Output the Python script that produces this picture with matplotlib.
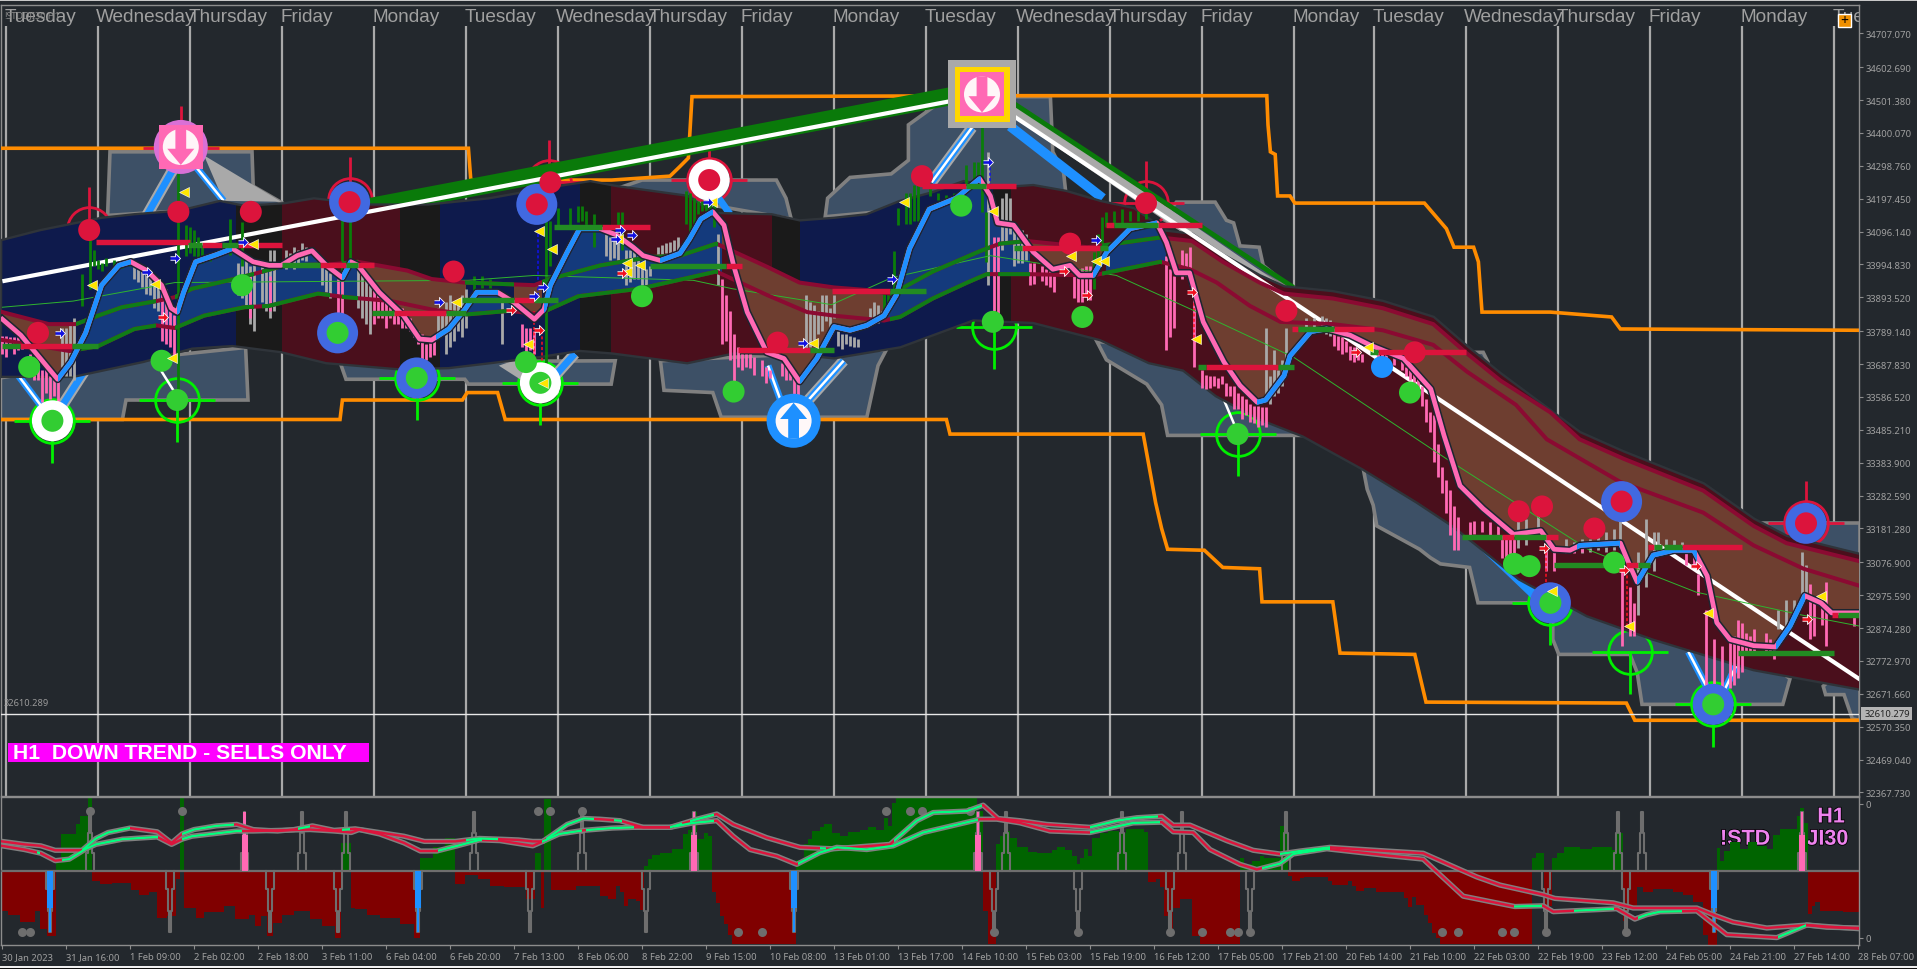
import numpy as np
import matplotlib
matplotlib.use("Agg")
import matplotlib.pyplot as plt
from matplotlib.patches import Rectangle
import matplotlib.patheffects as pe

# ---------- axis text ----------
price_ticks = [34707.070,34602.690,34501.380,34400.070,34298.760,34197.450,34096.140,33994.830,33893.520,33789.140,
               33687.830,33586.520,33485.210,33383.900,33282.590,33181.280,33076.900,32975.590,32874.280,32772.970,
               32671.660,32570.350,32469.040,32367.730]
date_labels = ["30 Jan 2023","31 Jan 16:00","1 Feb 09:00","2 Feb 02:00","2 Feb 18:00","3 Feb 11:00","6 Feb 04:00","6 Feb 20:00",
               "7 Feb 13:00","8 Feb 06:00","8 Feb 22:00","9 Feb 15:00","10 Feb 08:00","13 Feb 01:00","13 Feb 17:00","14 Feb 10:00",
               "15 Feb 03:00","15 Feb 19:00","16 Feb 12:00","17 Feb 05:00","17 Feb 21:00","20 Feb 14:00","21 Feb 10:00","22 Feb 03:00",
               "22 Feb 19:00","23 Feb 12:00","24 Feb 05:00","24 Feb 21:00","27 Feb 14:00","28 Feb 07:00"]
day_bars = [1,24,47,70,93,116,139,162,185,208,231,254,277,300,323,343,366,389,412,435,458]
day_names = ["Tuesday","Wednesday","Thursday","Friday","Monday"]*3+["Tuesday","Wednesday","Thursday","Friday","Monday","Tuesday"]
last_price = 32610.279

# ---------- main smoothed price line ----------
line_x = [0.1,4.7,9.6,13.9,17.2,20.9,24.9,29.2,32.2,36.2,39.9,42.3,43.8,45.4,48.4,53.6,57.6,62.8,66.8,69.8,73.8,77.5,81.1,85.1,87.2,89,
          94.3,100.4,104.4,107.4,111.7,115.7,118.7,123.9,127.9,133.1,135.5,137.1,141.3,144.4,149.6,153.6,157.8,160.3,164.6,169.5,171.9,
          174.7,177.7,180.5,182.9,186.3,191.2,195.5,199.4,203.7,208,212,216.2,220.5,223.6,226.9,231.8,238.5,244.4,247.1,248.9,252.9,257.8,
          262.7,267,269.4,272.8,276.2,282,288.7,291.1,293.6,296.9,300.3,305.5,309.5,313.8,315.9,320.5,322,327.2,331.2,337,341.9,350.4,357.2,
          360.5,364.5,370.3,377.9,384.7,388,392,394.5,404.6,407,408.8,412.8,418,422.9,426.3,428.7,432,437.9,443.4,447,450.7,454.7,457.4,464.5]
line_y = [33826,33777,33705,33641,33694,33784,33931,33992,34003,33976,33931,33860,33848,33909,34003,34025,34044,34003,33992,33992,34022,34037,33992,33954,34003,33992,
          33909,33837,33765,33762,33796,33856,33909,33909,33879,33826,33856,33931,34033,34105,34105,34086,34048,34022,34007,34029,34074,
          34135,34157,34116,33992,33848,33724,33705,33634,33705,33803,33792,33807,33837,33901,34044,34165,34199,34259,34206,34123,34116,34033,
          33980,33992,33961,33961,34033,34105,34123,34063,33969,33969,33818,33694,33622,33570,33577,33652,33713,33788,33796,33777,33747,33705,33611,
          33468,33313,33242,33163,33174,33117,33114,33129,33136,33065,33016,33099,33114,33114,33035,32891,32839,32820,32816,32880,32974,32952,32921,32921]
line_blue_ranges = [(13.9,32.2),(43.8,57.6),(85,87),(108.6,123.9),(135.5,149.3),(164.6,177.7),(199.4,244.7),(272.8,288.7),(313.8,331.2),(393.8,404.6),(408.8,423.8),(443.4,450.7)]

# ---------- moving averages ----------
ma_up_x = [0.1,11.7,18.5,24,30,38.6,43.2,47.5,56.7,62.8,70.7,82,89,101.3,107.4,115.7,133.1,137,149.6,162.1,169.5,178.6,191.2,199.4,208,216.2,222,225.4,232.7,244.7,249.5,256.3,
           271.3,278.6,289.6,297.5,305.2,314.4,320.5,332.7,345.2,357.8,366.3,374.6,387.1,394.4,405.4,425.3,437.9,446.1,464.5]
ma_up_y = [33848,33811,33811,33837,33863,33882,33894,33920,33946,33965,33992,33995,34003,33976,33950,33939,33931,33950,33992,34018,34022,34059,33988,33939,33924,33916,33905,33924,33973,34037,34059,34067,
           34048,34059,34078,34067,34003,33939,33905,33890,33860,33811,33720,33637,33539,33456,33396,33298,33189,33136,33080]
ma_lo_x = [0.1,16.9,24,33.1,38.6,43.2,50.5,60.6,66.7,79,86,97.3,107.4,116.3,127,134,144.1,159.4,178.6,191.2,201.3,208,220.5,224.5,232.7,241.3,246.2,256.3,272.8,289.6,297,303.7,
           312,319.6,332.7,345.2,357.8,366.3,378.5,386.2,404.5,425.3,437.9,450.4,464.5]
ma_lo_y = [33762,33728,33743,33796,33807,33799,33837,33863,33867,33905,33894,33882,33856,33841,33852,33841,33897,33920,33973,33901,33848,33837,33822,33833,33890,33939,33965,33965,33961,34003,33980,33939,
           33867,33818,33811,33792,33747,33664,33562,33456,33325,33230,33129,33057,33004]
ma_green_ranges = [(18.5,38.6),(43.2,63),(65,82),(85,89),(115.7,128),(135,179),(222,247),(249,257),(275,290)]
thin_x = [0.1,17.8,43.2,116.6,133.1,172.8,182.6,207.4,222.4,247.1,278.6,298.8,322.9,361.1,396.9,423.5,450.1,464.5]
thin_y = [33863,33882,33939,33946,33961,33946,33920,33871,33954,34022,33961,33848,33709,33396,33114,32985,32914,32880]

# ---------- cloud ----------
cloud_top_x = [0.1,9.6,24.9,33.1,44.4,54.5,60.6,70.7,78,91.2,106.5,121.8,137,147.1,153.6,171.3,177.7,192.4,199.4,208,216.2,224.5,232.7,240.4,249.5,257.8,266,274.6,282.9,287.8,289.9,
               297.5,305.2,314.4,320.5,332.7,345.2,357.8,366.3,374.6,394.4,405.4,425.3,437.9,446.1,464.5]
cloud_top_y = [34067,34097,34135,34146,34157,34187,34172,34180,34195,34176,34176,34195,34229,34248,34233,34203,34150,34146,34127,34135,34146,34187,34214,34248,34229,34236,34218,34187,34165,34123,34097,
               34086,34022,33958,33924,33909,33879,33830,33739,33656,33475,33415,33317,33208,33155,33099]
cloud_bot_x = [0,17.8,35.3,47.5,57.6,69.8,81.1,99.5,111.7,132.2,144.4,152.6,171.3,182.9,199.4,208,224.5,242.8,257.8,274.6,286.8,295.4,303.6,314.3,325.3,340.3,353.8,363,379.4,396.3,412.8,437.9,464.5]
cloud_bot_y = [33652,33652,33698,33739,33747,33728,33694,33675,33679,33709,33732,33724,33694,33724,33720,33709,33743,33826,33818,33765,33694,33671,33592,33521,33468,33366,33264,33189,33027,32914,32842,32748,32688]
zones_navy = [(-1,58.5),(109.5,144.4),(199.4,247.7)]
zones_black = [(58.5,69.9),(99.5,109.5),(144.4,152.3),(192.4,199.4),(247.7,252.3)]
zones_maroon = [(69.9,99.5),(152.3,192.4),(252.3,466)]
fill_blue_ranges = [(18,89),(116,128),(135,180),(221,257),(276,291)]
fill_brown_ranges = [(-1,18),(89,116),(128,135),(180,221),(257,276),(291,466)]

# ---------- outer stepped channel shapes ----------
slate_shapes = [
 [(-0.5,33645),(-0.5,33517),(30.1,33517),(31,33577),(61.5,33577),(60.9,33739),(17.8,33683)],
 [(26.4,34146),(27,34342),(62.5,34342),(62.8,34236),(70.7,34180)],
 [(84.5,33694),(86,33641),(115.7,33641),(116.6,33626),(152.3,33626),(153.3,33698)],
 [(153.8,34229),(160,34255),(193.6,34255),(196,34199),(197.3,34135)],
 [(164.6,33698),(165.5,33607),(177.7,33600),(179.8,33524),(216.2,33524),(219,33683),(221.1,33732)],
 [(205.8,34142),(206.4,34199),(212,34263),(222.3,34274),(226.6,34316),(226.6,34425),(236.4,34512),(262.1,34512),(262.7,34342),(265.4,34278),(266,34210)],
 [(273.7,33758),(276.1,33701),(286.2,33626),(289.9,33562),(291.4,33468),(325,33468),(299,33720)],
 [(290.2,34135),(293.6,34187),(303.3,34187),(306.1,34131),(307.9,34123),(309.5,34052),(314.3,34048),(315.3,33992),(323.5,33909)],
 [(340.3,33366),(341.3,33302),(342.8,33253),(343.7,33189),(354.4,33117),(357.1,33091),(359.6,33072),(366.9,33061),(369,32952),(387.7,32952),(387.7,32839),(389.2,32793),
  (407,32793),(408.8,32737),(410,32639),(445.2,32639),(447,32718),(396.8,33193)],
 [(455.3,32695),(455.9,32669),(460.5,32669),(462.6,32594),(464.5,32590),(464.5,32800)],
 [(436.6,33150),(436.6,33197),(464.5,33197),(464.5,33100)],
 [(365.7,33724),(370.3,33724),(371.5,33694),(371.5,33645)],
]
orange_top_x = [-0.5,116.6,117.2,152.4,167,169.5,171.6,172.5,253.2,316.2,316.5,317.1,318.3,318.9,322,323.2,355.6,361.1,363,367.9,369.1,370,387.1,402.4,404.6,464.8]
orange_top_y = [34353,34353,34255,34255,34267,34297,34323,34512,34515,34515,34425,34342,34334,34206,34206,34184,34184,34105,34048,34048,34003,33848,33848,33833,33796,33792]
orange_bot_x = [-0.5,84.5,85.1,115.1,116.3,123.9,125.8,236.1,237,285.3,287.2,288.4,289.9,291.4,300.6,305.2,314.4,315,332.7,334.5,353.2,356,406.1,408.2,464.8]
orange_bot_y = [33517,33517,33577,33577,33600,33600,33517,33517,33472,33472,33343,33261,33181,33117,33114,33061,33057,32955,32955,32797,32793,32646,32643,32590,32590]

# ---------- trend lines: x0, price0, x1, price1 ----------
trend_white = [(0.1,33943,237.9,34500),(245.6,34512,464.7,32714)]
trend_green_thick = [(91.2,34170,237.9,34515)]
trend_green_edge = [(253.2,34489,322.9,33924)]
trend_grey = [(251.7,34481,322,33890)]
trend_blue = [(252,34421,275.2,34199)]
spokes_grey = [(44.4,34323,36.2,34146),(12.6,33513,21.5,33683),(242.5,34417,232.4,34248),(199.7,33551,210.4,33698),(136.1,33622,143.2,33720)]
spokes_blue = [(44.4,34323,36.2,34146),(45.4,34342,55.4,34191),(12.6,33513,4.1,33652),(12.6,33513,21.5,33683),(136.1,33622,143.2,33720),(195.4,33551,191.5,33683),
               (199.7,33551,210.4,33698),(242.5,34417,232.4,34248),(179.2,34199,182,34150),(426.2,32692,421.6,32801),(430.5,32680,434.2,32775)]
spokes_white = [(45.4,34342,55.4,34191),(12.6,33513,4.1,33652),(195.4,33551,191.5,33683),(199.7,33551,210.4,33698),(242.5,34417,232.4,34248),(426.2,32692,421.6,32801),
                (430.5,32680,434.2,32775),(305.5,33577,308.2,33498),(39.8,33667,43.2,33600)]
wedges_grey = [[(50.5,34331),(69.8,34188),(55.4,34191)],[(124.2,33683),(133.1,33720),(132.8,33615)]]
wedges_blue = [[(360.2,33227),(383.7,33005),(383.7,32950)]]

# ---------- hourly bars: bar, high, low ----------
grey_bars = [(15,33800,33680),(16,33800,33650),(17,33810,33650),(18,33830,33640),(33,34000,33950),(34,33990,33940),(35,33985,33925),(36,33980,33905),(37,33975,33900),(38,33960,33860),(39,33950,33850),
 (59,34000,33900),(60,34010,33890),(61,34020,33870),(62,33990,33810),(63,34000,33790),(65,33990,33880),(66,33980,33850),(67,34040,33830),(68,34040,33850),
 (71,34040,33980),(72,34030,33990),(73,34050,33980),(74,34040,33990),(75,34060,34010),(76,34050,34005),(80,33990,33930),(81,33980,33910),(82,33970,33890),
 (89,34000,33860),(90,33980,33830),(91,33950,33810),(92,33940,33780),(109,33860,33780),(110,33850,33780),(111,33880,33720),(112,33900,33740),(113,33880,33760),(114,33870,33790),(115,33900,33770),(116,33920,33800),(125,33900,33750),
 (151,34090,34020),(152,34080,34010),(153,34075,34015),(154,34070,34000),(156,34040,33930),(157,34040,33940),(158,34040,33950),(159,34020,33950),(160,34000,33930),(161,33980,33930),(162,33990,33960),
 (164,34050,34020),(165,34055,34025),(166,34060,34030),(167,34065,34030),(168,34070,34030),(169,34080,34030),(179,34090,33930),
 (201,33900,33730),(202,33880,33740),(203,33870,33750),(204,33850,33780),(205,33900,33790),(206,33900,33820),(207,33860,33800),(208,33900,33830),(209,33790,33745),(210,33780,33735),(211,33780,33750),(212,33775,33745),(213,33770,33740),(214,33765,33740),
 (217,33860,33810),(218,33880,33810),(219,33870,33815),(220,33850,33820),(246.5,34340,33930),(250,34200,34040),(251,34215,34060),(252,34200,34090),(253,34110,33990),(254,34100,34000),(255,34100,34000),(256,34090,34010),
 (316,33800,33570),(317,33650,33565),(318,33730,33590),(319,33670,33600),(320,33700,33620),(321,33800,33660),(326,33830,33790),(328,33830,33790),(330,33835,33795),(331,33830,33780),(332,33825,33775),
 (379,33210,33120),(381,33210,33130),(384,33225,33150),(391,33150,33110),(393,33140,33110),(395,33150,33105),(397,33150,33110),(399,33160,33115),(401,33170,33110),(403,33180,33115),(404.5,33210,33120),
 (409,33110,32914),(411,33210,33000),(413,33170,33050),(414,33170,33100),(416,33150,33110),(418,33145,33115),(420,33140,33110),(444,32930,32870),(446,32960,32880),(448,32960,32900),(449,32950,32920),(450,33110,32970),(451,33070,32980)]
pink_bars = [(0,33775,33720),(1,33775,33710),(2,33770,33740),(3,33770,33720),(4,33770,33730),(5,33765,33735),(7,33720,33650),(8,33710,33640),(9,33710,33640),(10,33670,33570),(11,33680,33600),(12,33650,33580),(13,33640,33590),(14,33660,33570),
 (40,33930,33760),(41,33920,33750),(42,33880,33740),(43,33840,33700),(62,33960,33830),(67,33960,33850),(84,33950,33830),(85,33950,33820),
 (93,33930,33810),(94,33925,33830),(95,33910,33830),(96,33890,33800),(97,33880,33830),(98,33860,33810),(99,33850,33810),(100,33860,33800),(101,33850,33800),(102,33830,33790),(103,33800,33770),(104,33790,33750),(105,33780,33700),(106,33750,33700),(107,33760,33710),(108,33760,33715),
 (130,33810,33740),(131,33800,33720),(132,33800,33730),(133,33790,33720),(180,33950,33750),(181,33900,33760),(182,33850,33700),(183,33780,33630),(184,33740,33680),(185,33720,33670),(186,33720,33680),(187,33720,33675),(188,33710,33655),
 (190,33700,33650),(191,33680,33630),(192,33670,33645),(195,33690,33650),(196,33690,33640),(197,33670,33640),(198,33670,33580),(199,33640,33580),
 (248,34080,33850),(249,34080,33820),(257,34000,33930),(258,34000,33935),(260,33990,33945),(261,33980,33930),(262,33975,33925),(263,33960,33910),(268,33980,33890),(269,33980,33880),(270,33985,33880),(271,33990,33895),(272,33990,33885),
 (291,34020,33730),(292,33980,33770),(293,33960,33800),(295,34040,33950),(296,34030,33960),(297,34050,33930),(298,33920,33680),
 (300,33670,33615),(301,33655,33610),(302,33650,33615),(303,33650,33620),(304,33645,33615),(305,33650,33625),(306,33630,33590),(307,33620,33590),(308,33620,33550),(309,33600,33550),(310,33590,33520),(311,33580,33530),(312,33565,33510),(313,33560,33505),(314,33560,33495),(315,33555,33500),(316,33555,33495),
 (333,33785,33745),(334,33775,33730),(335,33770,33720),(336,33760,33725),(337,33745,33700),(338,33740,33695),(339,33730,33700),(340,33720,33695),(344,33745,33700),(345,33740,33680),(346,33735,33690),(348,33725,33685),(350,33710,33670),
 (351,33680,33650),(352,33680,33640),(353,33670,33620),(354,33650,33600),(355,33620,33560),(356,33580,33510),(357,33540,33480),(358,33530,33385),(359,33440,33340),(360,33370,33290),(361,33330,33230),(362,33300,33160),(363,33250,33115),(364,33215,33115),
 (367,33200,33160),(368,33205,33165),(370,33205,33170),(372,33200,33160),(374,33190,33150),(375,33160,33090),(376,33160,33090),(377,33160,33085),(378,33150,33095),(386,33120,33050),(388,33110,33050),(391,33125,33105),(393,33125,33105),(395,33130,33110),
 (405,33050,32820),(407,33000,32850),(408,32950,32850),(421,33110,33070),(423,33100,33060),(424,33040,32975),(426,32930,32700),(428,32840,32670),(430,32820,32680),(432,32830,32690),(433,32850,32700),(434,32900,32720),(435,32890,32740),
 (436,32860,32790),(437,32850,32790),(438,32870,32800),(441,32860,32790),(442,32840,32790),(443,32825,32780),(452,33010,32840),(453,32950,32850),(455,32970,32885),(456,33015,32820),(463,32920,32880)]
green_bars = [(20,33965,33868),(22,34073,33919),(23,34040,33990),(24,34010,33980),(25,34000,33975),(26,34015,33990),(28,34010,33985),(30,34000,33985),(32,34005,33990),
 (44,34279,33580),(46,34115,34020),(47,34110,34030),(48,34100,34020),(49,34080,34010),(50,34050,34000),(52,34030,34005),(57,34135,34025),(60,34125,33990),
 (85,34135,33830),(87,34135,33990),(118,33960,33910),(120,33960,33915),(122,33950,33920),(136,34135,33630),(137,34130,33990),(139,34170,34115),(142,34170,34110),(144,34175,34125),(145,34175,34130),(146,34160,34110),(148,34150,34050),
 (154,34155,34095),(155,34155,34040),(171,34220,34120),(172,34215,34090),(173,34200,34120),(174,34190,34150),(175,34190,34160),(176,34185,34160),(177,34180,34160),(178,34180,34110),
 (220.5,33910,33853),(221.5,33910,33853),(223,34037,33889),(224,34170,34115),(226,34215,34120),(227,34215,34120),(228,34240,34130),(229,34255,34130),(232,34235,34205),(234,34215,34195),(236,34210,34195),(238,34215,34195),(240,34235,34200),
 (241,34300,34230),(243,34310,34230),(244,34310,34230),(245,34433,34156),(246,34156,34002),(273,34033,33920),(274,34090,33990),(275,34140,34040),(276,34155,34110),(278,34160,34115),(280,34165,34120),(282,34160,34130),(284,34160,34130),(286,34155,34135)]
dash_red = [(298,33909,33765),(386,33123,32995),(406.2,33054,32882),(133,33850,33700),(135,33790,33600)]
dash_blue = [(247,34310,34166),(134,34090,33900)]

# ---------- level bars: start, end, price ----------
level_crimson = [(23.5,47,34065),(50,55,34055),(59,70,34055),(79.6,86,33993),(89,93,33993),(4.6,17.4,33745),(98,111,33845),(128,133,33886),(150,162,34111),(181,185,33990),(207.4,222,33913),(184,202,33732),
 (230,241,34238),(246,253.6,34238),(255,274.5,34047),(276,278,34117),(289,300,34117),(301,319,33679),(322.5,324,33796),(333,343,33796),(344,366,33726),(375,378,33156),(386,389,33156),(406,409,33069),(411.5,413,33125),(420,435,33125),(457.5,459,32915)]
level_green = [(46.5,50,34055),(55,59,34055),(70,79.6,33993),(86,89,33993),(0,4.6,33745),(17.4,24,33745),(92.4,98,33845),(111,116,33845),(115,128,33886),(133,139,33886),(138,150,34111),(162,181,33990),(222,231,33913),(202,208,33732),
 (241,246,34238),(253,255,34047),(274.5,276.5,34047),(278,289,34117),(299,301,33679),(319,323,33679),(324,333,33796),(342,344,33726),(365,375,33156),(378,386,33156),(388,401,33069),(409,412,33069),(413,415,33125),(415.5,420,33125),(434,458,32798),(459,464.5,32915)]

# ---------- signal markers: bar, price ----------
dots_crimson = [(21.8,34101),(44.1,34157),(62.2,34157),(9,33784),(112.9,33973),(137.1,34248),(193.9,33754),(230,34267),(267,34059),(286,34184),(321.1,33852),(353.2,33724),(379.2,33234),(385,33249),(398.1,33181)]
dots_green = [(6.8,33679),(39.9,33698),(60,33931),(131,33694),(160,33897),(182.9,33603),(239.8,34176),(247.7,33818),(270.1,33833),(308.9,33472),(352,33600),(378,33072),(381.9,33065),(403,33076),(43.8,33577)]
ring_blue_crimson = [(86.9,34187),(133.7,34180),(404.9,33264),(451,33197)]
ring_white_crimson = [(176.8,34255)]
ring_blue_green = [(83.9,33784),(103.7,33645),(387.1,32952),(427.8,32639)]
ring_white_green = [(12.6,33513),(134.6,33630)]
dot_blue = [(345,33679)]
cross_green = [(12.6,33513),(43.8,33577),(103.7,33645),(134.6,33630),(248,33803),(308.9,33472),(387.1,32952),(407,32801),(427.8,32639)]
cross_red = [(21.8,34105),(44.7,34353),(86.9,34195),(136.8,34248),(176.8,34255),(286,34184),(451,33197)]
tri_yellow = [(22.4,33931),(45.4,34218),(38.3,33935),(62.8,34059),(42.6,33705),(113.5,33879),(134.3,34097),(137.4,34044),(131.6,33750),(135.2,33630),(153.9,34074),(156.3,33999),(156.3,33973),(159.4,33992),(177.4,34187),
 (202.8,33754),(225.4,34187),(247.7,34161),(267.3,34022),(273.4,34007),(275.5,34007),(298.5,33765),(341.6,33739),(387.4,32989),(406.7,32880),(426.6,32921),(454.7,32974)]
arrow_blue = [(14.5,33784),(36.2,33973),(43.2,34014),(60.3,34063),(109.2,33879),(135.2,33924),(133.1,33897),(154.5,34101),(153.6,34074),(157.5,34086),(176.5,34187),(200.3,33754),(222.4,33950),(246.5,34312),(273.4,34071)]
arrow_red = [(40.2,33833),(127.3,33856),(134.3,33792),(155.1,33969),(265.5,33976),(271.3,33901),(297.6,33909),(338.5,33724),(385.6,33121),(405.5,33053),(423.5,33065),(451.3,32903)]
icon_sell_round = (44.7,34357)
icon_buy_round = (197.9,33513)
icon_sell_square = (245,34519)

# ---------- lower panel ----------
hist_start = [0,1.5,4.6,8.2,9.5,11.2,13.6,14.8,18.4,19.4,21.4,22.5,24.5,27.6,32.2,34.2,36.7,38.8,41.3,43.4,44.4,45.4,48.5,50.5,55.6,58.2,61.7,63.3,64.8,66.3,67.7,69.9,73,77,80,83.2,84.7,87.3,88.3,91.3,94.4,99.5,103,104.6,107.7,110.7,113.3,115.8,118.9,122,125.5,131.1,133.2,134.7,135.5,137.3,143.4,149.5,
 151.6,153.5,154.5,155.5,156.6,158.5,159.5,160.5,161.6,162.4,164.5,167.4,170.3,171.6,172.4,173.7,175.5,176.6,177.5,178.5,179.5,180.5,181.5,182.5,198.5,200.5,201.5,202.5,204.5,205.5,207.5,209.5,211.5,214.5,216.5,218.5,220.5,221.5,222.5,223.5,243.7,245.3,246.6,248.5,249.5,250.5,252,253.7,256.6,258.7,262.4,263.7,265.8,267.4,268.7,269.5,270.5,271.6,272.4,274.5,276.6,279.3,281,285.5,
 286.5,288.5,289.5,290.5,291.6,292.8,294.5,297.5,299.5,309.5,310.5,312.5,314.5,315.5,319.5,320.5,321.6,322.5,324.5,325.5,331.5,332.5,336.5,337.5,338.5,340.5,343.5,350.5,351.5,352.5,353.5,355.5,356.5,357.5,358.5,359.5,382.5,383.5,385.5,387.4,388.7,390.5,394.5,397.5,402.4,403.3,405.3,406.6,408.7,410.3,412.8,417.8,420.3,422.8,425.3,426.6,428.7,429.5,430.5,432,434.5,436.6,438.7,441.2,442.8,444.5,448.7,449.5,450.5,451.6,452.4,453.3,454.5,460.3,464.3]
hist_val = [-54,-59,-69,-54,-79,-88,11,50,63,75,98,-14,-18,-16,-25,-32,-29,-63,-61,-11,98,-50,-63,-56,-47,-65,-59,-74,-61,-88,-70,-59,-54,-65,-74,-90,38,-50,-52,-59,-63,-72,-91,18,32,45,-18,-5,-11,-20,-22,-38,25,-50,97,-25,-20,-34,
 -38,-20,-29,-47,-38,-40,-53,7,16,22,25,30,50,56,80,43,52,47,-29,-43,-61,-72,-86,-99,15,36,43,54,60,64,52,47,53,55,60,56,72,61,92,98,81,-54,-99,36,47,54,45,32,26,25,29,32,29,20,10,18,30,20,45,52,54,52,57,53,
 -15,-11,-22,-61,-79,-50,-38,-88,-99,17,9,14,20,18,61,65,-7,-14,-9,-8,-14,-19,-14,-20,-27,-23,-29,-37,-48,-35,-46,-59,-70,-84,-90,-99,18,25,-47,17,25,32,30,33,29,52,-67,-47,-22,-29,-24,-29,-33,-42,-87,-100,31,14,27,39,30,39,34,30,48,57,75,85,65,-58,-47,-42,-54,-56]
sub_up_x = [0,5.6,9.7,13.3,20,23.5,26.5,32,38.8,42.4,45,48,53.6,58.7,62.8,68.9,73,77.6,83,88.3,94.4,100.5,105.6,113.3,119.4,124.5,129.1,132.7,135.2,141.3,145.4,149.5,154.5,160.3,167,173.7,178.7,182.8,191.2,199.5,207.8,222,228.7,232.8,241.2,245.3,249,254.5,261.2,272,278.7,283.7,290,292.8,297,306.2,312.8,319.5,324.5,332,346.2,355.3,364.5,368.7,374.5,385.3,388.2,402.8,407.8,423.7,428.7,432.8,441.2,451.2,456.2,464.3]
sub_up_y = [40,36,34,28,28,44,52,58,53,38,50,56,61,63,56,54,56,61,55,57,52,47,40,40,44,43,42,40,40,63,71,70,68,59,59,70,77,63,45,32,30,36,68,79,81,89,71,68,63,59,68,72,74,62,62,41,28,23,27,32,27,24,2,-8,-19,-32,-37,-43,-50,-50,-61,-69,-77,-73,-76,-77]
sub_lo_x = [0,5.6,9.7,13.3,16.8,21,23.5,30.1,38.8,42.4,45,47.5,58.7,62.8,77,83,87.3,89.3,94.4,100.5,104.6,108.7,113.8,119.4,124.5,132.7,135.2,139.3,145.4,152.6,157.8,167,172.8,178.7,182.8,187,193.7,198.7,204.5,208.7,216.2,222.8,230.3,244.5,248.7,254.5,262,272,282.8,290,292.8,297.8,302,309.5,313.7,319.5,322.8,331.2,346.2,355.3,365.3,374.5,378.2,385.3,387.8,403.7,408.2,411.2,414.5,423.7,431.2,443.7,451.2,456.2,464.3]
sub_lo_y = [34,29,24,14,16,30,36,43,46,36,43,47,54,54,56,54,52,56,50,38,27,27,34,42,41,34,40,50,55,58,59,59,65,68,47,29,20,9,25,32,29,34,52,70,70,65,54,52,65,66,53,52,29,9,2,10,23,30,21,16,-34,-44,-48,-47,-55,-51,-65,-59,-55,-54,-86,-90,-73,-75,-78]
sub_up_green = [(20,32),(45,58),(74,77),(85,87),(116,124),(136,148),(153,155),(167,170),(172,178),(204.5,206),(223,245),(272,289),(319.5,332)]
sub_lo_green = [(8.7,9.5),(15,39),(45,60),(109,120),(135,145),(146,158),(168,178),(199,244),(272,289.5),(315,332),(378,385),(393,403),(409,420),(444,451)]
spike_up = [22,75,86,118,145,251,280,295,321,404,410]
spike_down = [42,67,84,132,161,248,269,292,312,386,406]
spike_pink = [60.7,173,244,450]
spike_blue = [12,104,198,428]
sub_dot_x = [5,7,22,45,134,137,145,221,227,230,242,184,190,248,269,292,300,307,309,312,360,364,375,378,386,406]
sub_dot_y = [-82,-82,81,81,81,81,81,81,81,81,81,-83,-83,-83,-83,-83,-83,-83,-83,-83,-83,-83,-83,-83,-83,-83]

# ---------- style ----------
BG="#23282d"; TXT="#a0a0a0"; GRIDC="#a9a9a9"; FRAME="#8c8c8c"
NAVY="#0e1a4c"; BLUEF="#143a7c"; MAROON="#4a0f1c"; BLK="#1a1a1a"; BROWN="#6e3e30"; SLATE="#3d5066"
CRIM="#dc143c"; DKRED="#8b0a32"; GREEN="#0f7d16"; LV="#228b22"; PINK="#ff69b4"; BLUE="#1e90ff"; ROYAL="#4169e1"; LGREEN="#32cd32"; LIME="#00f000"; ORANGE="#ff8c00"
W,H=1917,970
plt.rcParams['font.family']=['Noto Sans','DejaVu Sans']
fig=plt.figure(figsize=(W/100,H/100),dpi=100,facecolor=BG)
def axpx(x0,y0,x1,y1):
    return fig.add_axes([x0/W,1-y1/H,(x1-x0)/W,(y1-y0)/H],facecolor=BG)
ax=axpx(1,6,1859,797); ax2=axpx(1,798,1859,946)
ax.set_xlim(-0.25,464.25); ax.set_ylim(32356.6,34794.5)
ax2.set_xlim(-0.25,464.25); ax2.set_ylim(-100,100)

def clipped(artist,axis,x0,x1):
    r=Rectangle((x0,-1e6),x1-x0,2e6,transform=axis.transData)
    artist.set_clip_path(r)
def seglines(axis,segs,color,lw,z,**kw):
    for s in segs:
        axis.plot([s[0],s[2]],[s[1],s[3]],color=color,lw=lw,zorder=z,solid_capstyle='butt',**kw)
def unz(pts):
    a=list(zip(*pts)); return list(a[0]),list(a[1])

# day separators and names
ax.vlines(day_bars,32300,34730,color=GRIDC,lw=1.6,zorder=1)
for b,n in zip(day_bars,day_names):
    ax.text(b-0.4,34758,n,color=TXT,fontsize=13.7,family='Liberation Sans',ha='left',va='center',clip_on=True,zorder=1)
ax.text(0.5,34762,"!STDDJI30,H1",color="#8a8a8a",fontsize=6.5,va='center',zorder=1)

# stepped shapes
for sh in slate_shapes:
    xs,ys=unz(sh)
    ax.fill(xs,ys,facecolor=SLATE,edgecolor="#808080",lw=2.6,zorder=2,joinstyle='miter')
ax.plot(orange_top_x,orange_top_y,color=ORANGE,lw=2.6,zorder=3,solid_joinstyle='miter')
ax.plot(orange_bot_x,orange_bot_y,color=ORANGE,lw=2.6,zorder=3,solid_joinstyle='miter')

# crosshairs sit behind the cloud
def crosses(pts,color,sign,z):
    x,y=unz(pts)
    ax.plot(x,y,ls='none',marker='o',ms=31.5,mfc='none',mec=color,mew=2,zorder=z)
    ax.plot(x,y,ls='none',marker='_',ms=55,mec=color,mew=2,zorder=z)
    for a,b in pts:
        ax.plot([a,a],[b,b+sign*130],color=color,lw=2,zorder=z,solid_capstyle='butt')
crosses(cross_green,LIME,-1,3.6); crosses(cross_red,CRIM,1,3.6)

# wedges, spokes and broad trend bands also sit behind the cloud
for w_ in wedges_grey:
    xs,ys=unz(w_); ax.fill(xs,ys,color="#a9a9a9",lw=0,zorder=3.7)
for w_ in wedges_blue:
    xs,ys=unz(w_); ax.fill(xs,ys,color=BLUE,lw=0,zorder=3.7)
seglines(ax,spokes_grey,"#a9a9a9",8,3.7)
seglines(ax,spokes_blue,BLUE,5,3.75)
seglines(ax,spokes_white,"white",1.8,3.8)
seglines(ax,trend_blue,BLUE,7,3.8)
seglines(ax,trend_grey,"#a9a9a9",9,3.82)
seglines(ax,trend_green_edge,"#0a7a0a",3.5,3.85)
seglines(ax,trend_green_thick,"#0a7a0a",13,3.85)

# cloud
cx=cloud_top_x+cloud_bot_x[::-1]; cy=cloud_top_y+cloud_bot_y[::-1]
cloud=ax.fill(cx,cy,facecolor=NAVY,edgecolor="#2f343a",lw=3.4,zorder=4)[0]
for zs,c in ((zones_navy,NAVY),(zones_black,BLK),(zones_maroon,MAROON)):
    for a,b in zs:
        s=ax.axvspan(a,b,color=c,lw=0,zorder=4.1); s.set_clip_path(cloud)
# trend fills
blue_poly=ax.fill(line_x+ma_lo_x[::-1],line_y+ma_lo_y[::-1],facecolor='none',edgecolor='none',zorder=4.2)[0]
brown_poly=ax.fill(ma_up_x+line_x[::-1],ma_up_y+line_y[::-1],facecolor='none',edgecolor='none',zorder=4.2)[0]
for a,b in fill_blue_ranges:
    s=ax.axvspan(a,b,color=BLUEF,lw=0,zorder=4.3); s.set_clip_path(blue_poly)
for a,b in fill_brown_ranges:
    s=ax.axvspan(a,b,color=BROWN,lw=0,zorder=4.3); s.set_clip_path(brown_poly)

seglines(ax,trend_white,"white",3,5.6)

# hourly bars
for bars,c in ((grey_bars,"#a9a9a9"),(green_bars,"#0a7d0a"),(pink_bars,PINK)):
    x,hi,lo=zip(*bars)
    ax.vlines(x,lo,hi,color=c,lw=2,zorder=6)
for x,a,b in dash_red:
    ax.plot([x,x],[a,b],color="#ff1020",lw=1.1,ls=(0,(2,1.5)),zorder=6.2)
for x,a,b in dash_blue:
    ax.plot([x,x],[a,b],color="#1010f0",lw=1.1,ls=(0,(2,1.5)),zorder=6.2)

# averages
ax.plot(thin_x,thin_y,color="#2fb52f",lw=0.7,zorder=6.5)
for xs,ys in ((ma_up_x,ma_up_y),(ma_lo_x,ma_lo_y)):
    ax.plot(xs,ys,color=DKRED,lw=2.9,zorder=7,solid_joinstyle='miter')
    for a,b in ma_green_ranges:
        l,=ax.plot(xs,ys,color=GREEN,lw=2.9,zorder=7.1); clipped(l,ax,a,b)
# price line
ax.plot(line_x,line_y,color="#1c2530",lw=5.6,zorder=8)
ax.plot(line_x,line_y,color=PINK,lw=3.4,zorder=8.1)
for a,b in line_blue_ranges:
    l,=ax.plot(line_x,line_y,color=BLUE,lw=3.4,zorder=8.2); clipped(l,ax,a,b)

# levels
for a,b,p in level_crimson:
    ax.plot([a,b],[p,p],color=CRIM,lw=3.9,zorder=9,solid_capstyle='butt')
for a,b,p in level_green:
    ax.plot([a,b],[p,p],color=LV,lw=3.9,zorder=9,solid_capstyle='butt')

def sc(pts,color,dia_px,z,marker='o',edge='none',lw=0):
    x,y=unz(pts)
    ax.scatter(x,y,s=(dia_px*0.72)**2,c=color,marker=marker,zorder=z,edgecolors=edge,linewidths=lw,clip_on=True)
# rings and dots
sc(ring_blue_crimson+ring_blue_green,ROYAL,41,11)
sc(ring_white_crimson+ring_white_green,"white",41,11)
sc(ring_blue_crimson+ring_white_crimson+dots_crimson,CRIM,22,11.2)
sc(ring_blue_green+ring_white_green+dots_green,LGREEN,22,11.2)
sc(dot_blue,BLUE,22,11.1)
# small markers
small_arrow=[(-1,.35),(0,.35),(0,1),(1,0),(0,-1),(0,-.35),(-1,-.35)]
sc(tri_yellow,"#ffe600",10,12,marker='<',edge='white',lw=0.4)
sc(arrow_blue,"#1010e0",10,12,marker=small_arrow,edge='white',lw=0.6)
sc(arrow_red,"#f01020",10,12,marker=small_arrow,edge='white',lw=0.6)
# icons
down_arrow=[(-.3,1),(.3,1),(.3,-.1),(.75,-.1),(0,-1),(-.75,-.1),(-.3,-.1)]
up_arrow=[(a,-b) for a,b in down_arrow]
sc([icon_sell_round],"#da70d6",54,13)
sc([icon_sell_round],PINK,44,13.1,marker='s')
sc([icon_sell_round],"#fff5f8",36,13.2)
sc([icon_sell_round],PINK,36,13.3,marker=down_arrow)
sc([icon_buy_round],BLUE,54,13)
sc([icon_buy_round],"#fff8f8",36,13.2)
sc([icon_buy_round],BLUE,36,13.3,marker=up_arrow)
sc([icon_sell_square],"#a9a9a9",68,13,marker='s')
sc([icon_sell_square],"#ffd700",55,13.1,marker='s')
sc([icon_sell_square],PINK,44,13.2,marker='s')
sc([icon_sell_square],"#fff5f8",36,13.3)
sc([icon_sell_square],PINK,36,13.4,marker=down_arrow)

# price line marker
ax.axhline(last_price,color="#e8e8e8",lw=1,zorder=3.5)
ax.text(0.3,last_price+20,"32610.289",color="#9a9a9a",fontsize=6.7,va='bottom',zorder=3.5)

# main axis styling
ax.yaxis.tick_right(); ax.set_yticks(price_ticks); ax.set_yticklabels([f"{v:.3f}" for v in price_ticks])
ax.tick_params(axis='y',colors=FRAME,labelcolor=TXT,labelsize=6.8,length=3,width=0.8,pad=2)
ax.set_xticks([])
for s in ax.spines.values(): s.set_color(FRAME); s.set_linewidth(1)
ax.set_zorder(1)

# lower panel
ax2.text(429.5,43,"!STD",color="#ee82ee",fontsize=15.5,weight='bold',family='Liberation Sans',va='center',zorder=1,
         path_effects=[pe.withStroke(linewidth=1.2,foreground='black')])
ax2.text(461.5,43,"DJI30",color="#ee82ee",fontsize=15.5,weight='bold',family='Liberation Sans',va='center',ha='right',zorder=1,
         path_effects=[pe.withStroke(linewidth=1.2,foreground='black')])
ax2.text(460.7,73,"H1",color="#ee82ee",fontsize=15.5,weight='bold',family='Liberation Sans',va='center',ha='right',zorder=1,
         path_effects=[pe.withStroke(linewidth=1.2,foreground='black')])
for i,v in enumerate(hist_val):
    a,b=hist_start[i],hist_start[i+1]
    ax2.bar(a,v,width=b-a,align='edge',color="#006400" if v>0 else "#800000",lw=0,zorder=2)
ax2.axhline(0,color="#6e6e6e",lw=1.6,zorder=3)
off_x=[-1.1,-0.9,-0.9,-0.55,-0.55,-0.15,-0.15,0.15,0.15,0.55,0.55,0.9,0.9,1.1]
off_f=[0,0,0.3,0.3,0.65,0.65,1,1,0.65,0.65,0.3,0.3,0,0]
for s,sgn in ((spike_up+spike_pink,80),(spike_down+spike_blue,-83)):
    for x in s:
        ax2.plot([x+o for o in off_x],[f*sgn for f in off_f],color="#6e6e6e",lw=1.5,zorder=3)
for x in spike_pink:
    ax2.bar(x,48,width=1.6,color=PINK,lw=0,zorder=3.2); ax2.bar(x,80,width=0.7,color=PINK,lw=0,zorder=3.2)
for x in spike_blue:
    ax2.bar(x,-50,width=1.6,color=BLUE,lw=0,zorder=3.2); ax2.bar(x,-83,width=0.7,color=BLUE,lw=0,zorder=3.2)
ax2.scatter(sub_dot_x,sub_dot_y,s=42,c="#6e6e6e",zorder=3.3,linewidths=0)
for xs,ys,gr in ((sub_up_x,sub_up_y,sub_up_green),(sub_lo_x,sub_lo_y,sub_lo_green)):
    ax2.plot(xs,ys,color="#808080",lw=3.8,zorder=4)
    ax2.plot(xs,ys,color=CRIM,lw=1.7,zorder=4.1)
    for a,b in gr:
        l,=ax2.plot(xs,ys,color="#00ff7f",lw=1.7,zorder=4.2); clipped(l,ax2,a,b)
ax2.yaxis.tick_right(); ax2.set_yticks([-90,91]); ax2.set_yticklabels(['0','0'])
ax2.tick_params(axis='y',colors=FRAME,labelcolor=TXT,labelsize=6.8,length=3,width=0.8,pad=2)
ax2.set_xticks(range(0,480,16)); ax2.set_xticklabels(date_labels,ha='left')
ax2.tick_params(axis='x',colors=FRAME,labelcolor=TXT,labelsize=6.8,length=3,width=0.8,pad=2)
for s in ax2.spines.values(): s.set_color(FRAME); s.set_linewidth(1)

# interface overlays (in pixels of the window)
def pxr(x0,y0,x1,y1,fc,ec='none',lw=0,z=20):
    fig.add_artist(Rectangle((x0/W,1-y1/H),(x1-x0)/W,(y1-y0)/H,transform=fig.transFigure,facecolor=fc,edgecolor=ec,linewidth=lw,zorder=z))
pxr(0,0,W,2,"#c8c8c8"); pxr(0,967,W,969,"#f0f0f0"); pxr(0,969,W,970,"#101010")
pxr(8,744,369,763,"#ff00ff")
fig.text(13/W,1-754/H,"H1  DOWN TREND - SELLS ONLY",color="white",fontsize=15.2,weight='bold',family='Liberation Sans',va='center',zorder=21)
pxr(1838,15,1851,28,"#f09000",ec="white",lw=1)
fig.text(1844.5/W,1-21.5/H,"+",color="black",fontsize=10,ha='center',va='center',zorder=21)
pxr(1861,708,1912,721,"#b4b4b4")
fig.text(1865/W,1-714.5/H,"32610.279",color="#222222",fontsize=6.8,va='center',zorder=21)
fig.savefig("out.png",dpi=100,facecolor=BG)
